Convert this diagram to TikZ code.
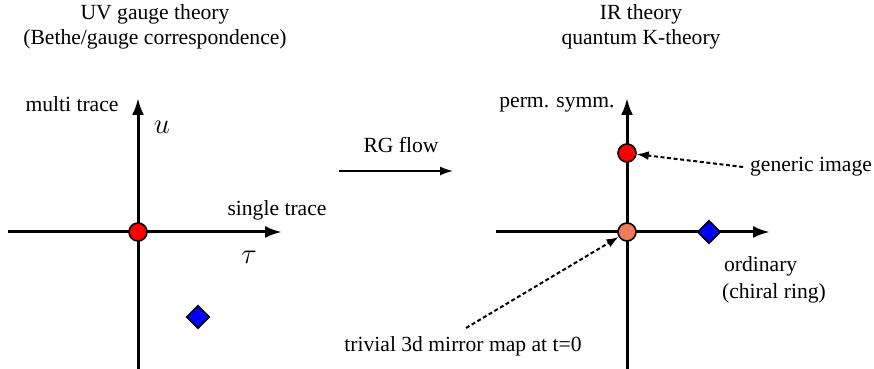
\documentclass[tikz,border=0pt]{standalone}
\usepackage{fontspec}
\setmainfont{Liberation Serif}
\usetikzlibrary{arrows.meta,shapes.geometric}

\begin{document}
\begin{tikzpicture}[x=0.5pt,y=0.5pt,
    axis/.style={line width=1.5pt,-{Latex[length=8.5pt,width=6pt]}},
    pointer/.style={line width=1pt,dash pattern=on 2pt off 1.3pt,-{Latex[length=6pt,width=4.5pt]}},
    dot/.style={circle,draw,line width=0.8pt,minimum size=9pt,inner sep=0pt},
    gem/.style={diamond,draw,line width=0.8pt,fill=blue,minimum size=11.5pt,inner sep=0pt},
    lbl/.style={font=\fontsize{10.8}{13}\selectfont}]
    \useasboundingbox (0,0) rectangle (874,369);
    % UV side
    \node [lbl] (uvtop) at (155,355) {UV gauge theory};
    \node [lbl] (uvsub) at (155,330) {(Bethe/gauge correspondence)};
    \coordinate (uvl) at (8,137);
    \coordinate (uvr) at (282,137);
    \coordinate (uvb) at (138,0);
    \coordinate (uvt) at (138,271);
    \draw [axis] (uvl) -- (uvr);
    \draw [axis] (uvb) -- (uvt);
    \node [dot,fill=red] (uvo) at (138,137) {};
    \node [gem] (uvd) at (198,52) {};
    \node [lbl] (multi) at (72,265) {multi trace};
    \node [font=\fontsize{15}{17}\selectfont] (u) at (162,242) {$u$};
    \node [lbl] (single) at (277,159) {single trace};
    \node [font=\fontsize{15}{17}\selectfont] (tau) at (249,112) {$\tau$};
    % RG flow
    \coordinate (rga) at (339,198);
    \coordinate (rgb) at (453,198);
    \draw [line width=0.8pt,-{Latex[length=6.5pt,width=4.5pt]}] (rga) -- (rgb);
    \node [lbl] (rg) at (401,224) {RG flow};
    % IR side
    \node [lbl] (irtop) at (641,355) {IR theory};
    \node [lbl] (irsub) at (641,330) {quantum K-theory};
    \coordinate (irl) at (496,137);
    \coordinate (irr) at (770,137);
    \coordinate (irb) at (627,0);
    \coordinate (irt) at (627,271);
    \draw [axis] (irl) -- (irr);
    \draw [axis] (irb) -- (irt);
    \node [dot,fill=red] (gen) at (627,216) {};
    \node [dot,fill={rgb,255:red,244;green,122;blue,92}] (iro) at (627,137) {};
    \node [gem] (ird) at (709,137) {};
    \node [lbl] (perm) at (557,264) {perm. symm.};
    \node [lbl] (generic) at (811,202) {generic image};
    \node [lbl,anchor=west] (ord) at (717,103) {ordinary};
    \node [lbl,anchor=west] (chiral) at (715,76) {(chiral ring)};
    \node [lbl] (triv) at (463,23) {trivial 3d mirror map at t=0};
    \draw [pointer] (generic.west) -- (gen);
    \draw [pointer] (466,41) -- (iro);
\end{tikzpicture}
\end{document}
